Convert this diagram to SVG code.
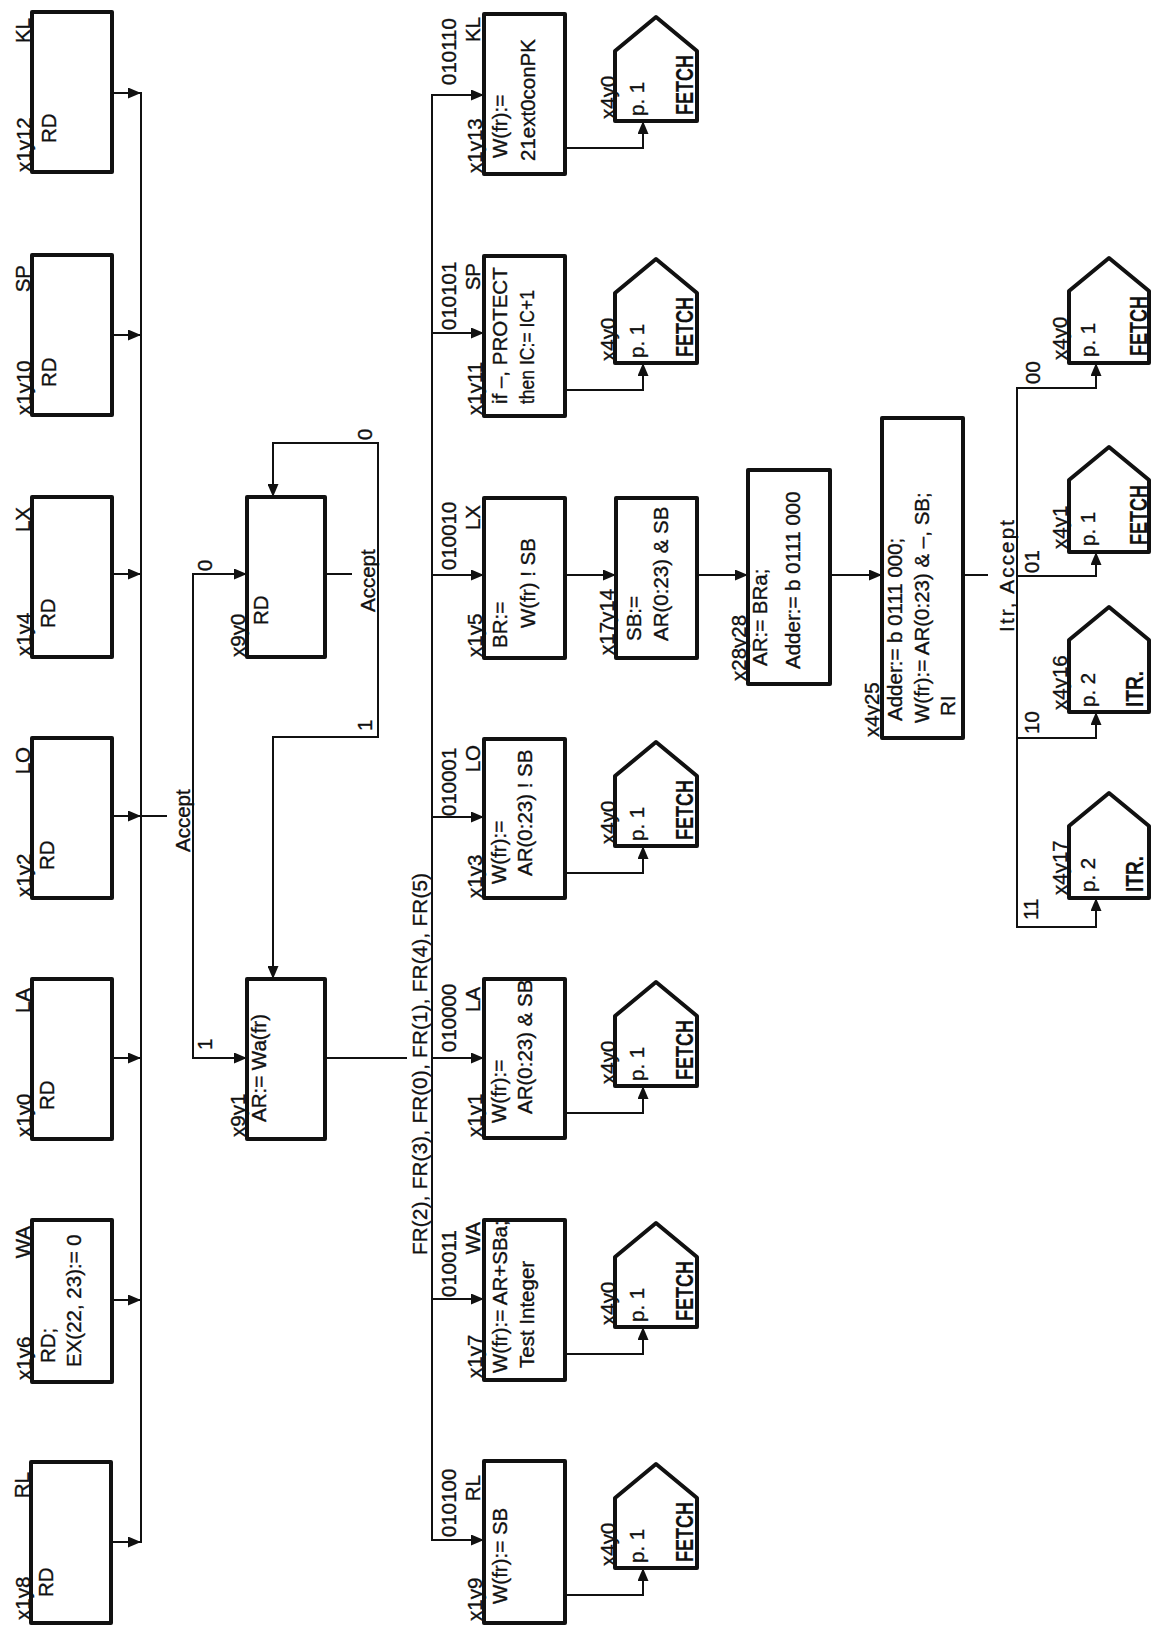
<svg xmlns="http://www.w3.org/2000/svg" width="1159" height="1629" viewBox="0 0 1159 1629">
<style>
  .box { fill: #fff; stroke: #111; stroke-width: 4; stroke-linejoin: round; }
  .pent { fill: #fff; stroke: #111; stroke-width: 4; stroke-linejoin: round; }
  .ln { fill: none; stroke: #111; stroke-width: 2; }
  .arr { fill: none; stroke: #111; stroke-width: 2; marker-end: url(#ah); }
  text { font-family: "Liberation Sans", Arial, sans-serif; font-size: 20.5px; fill: #111; stroke: #111; stroke-width: 0.35; }
  .e { text-anchor: end; }
  .b { font-weight: bold; font-size: 24px; stroke-width: 0.2; }
</style>
<defs>
  <marker id="ah" viewBox="0 0 13 11" refX="13" refY="5.5" markerWidth="13" markerHeight="11" markerUnits="userSpaceOnUse" orient="auto">
    <path d="M0,0 L13,5.5 L0,11 z" fill="#111"/>
  </marker>
</defs>
<rect width="1159" height="1629" fill="#fff"/>

<!-- connectors -->
<g id="connectors">
  <!-- left column into the collecting bus -->
  <line class="arr" x1="112" y1="93" x2="141" y2="93"/>
  <line class="arr" x1="112" y1="335" x2="141" y2="335"/>
  <line class="arr" x1="112" y1="574" x2="141" y2="574"/>
  <line class="arr" x1="112" y1="816" x2="141" y2="816"/>
  <line class="arr" x1="112" y1="1058" x2="141" y2="1058"/>
  <line class="arr" x1="112" y1="1300" x2="141" y2="1300"/>
  <line class="arr" x1="112" y1="1542" x2="141" y2="1542"/>
  <line class="ln" x1="141" y1="92" x2="141" y2="1543"/>
  <line class="ln" x1="141" y1="816" x2="167" y2="816"/>
  <!-- Accept decision on the left -->
  <line class="arr" x1="193" y1="574" x2="247" y2="574"/>
  <line class="arr" x1="193" y1="1058" x2="247" y2="1058"/>
  <line class="ln" x1="193" y1="573" x2="193" y2="1059"/>
  <!-- x9y0 loop -->
  <line class="ln" x1="325" y1="574" x2="352" y2="574"/>
  <line class="ln" x1="378" y1="442" x2="378" y2="738"/>
  <polyline class="arr" points="378,443 273,443 273,497"/>
  <polyline class="arr" points="378,737 273,737 273,979"/>
  <!-- x9y1 out to the function bus -->
  <line class="ln" x1="325" y1="1058" x2="407" y2="1058"/>
  <line class="ln" x1="432" y1="94" x2="432" y2="1541"/>
  <line class="arr" x1="432" y1="95" x2="484" y2="95"/>
  <line class="arr" x1="432" y1="333" x2="484" y2="333"/>
  <line class="arr" x1="432" y1="575" x2="484" y2="575"/>
  <line class="arr" x1="432" y1="817" x2="484" y2="817"/>
  <line class="arr" x1="432" y1="1058" x2="484" y2="1058"/>
  <line class="arr" x1="432" y1="1299" x2="484" y2="1299"/>
  <line class="arr" x1="432" y1="1540" x2="484" y2="1540"/>
  <!-- boxes to FETCH connectors -->
  <polyline class="arr" points="565,148 643,148 643,121"/>
  <polyline class="arr" points="565,390 643,390 643,363"/>
  <polyline class="arr" points="565,873 643,873 643,846"/>
  <polyline class="arr" points="565,1113 643,1113 643,1086"/>
  <polyline class="arr" points="565,1354 643,1354 643,1327"/>
  <polyline class="arr" points="565,1595 643,1595 643,1568"/>
  <!-- LX chain -->
  <line class="arr" x1="565" y1="575" x2="616" y2="575"/>
  <line class="arr" x1="697" y1="575" x2="748" y2="575"/>
  <line class="arr" x1="830" y1="575" x2="882" y2="575"/>
  <!-- Itr, Accept decision -->
  <line class="ln" x1="963" y1="575" x2="988" y2="575"/>
  <line class="ln" x1="1017" y1="387" x2="1017" y2="928"/>
  <polyline class="arr" points="1017,388 1096,388 1096,363"/>
  <polyline class="arr" points="1017,576 1096,576 1096,552"/>
  <polyline class="arr" points="1017,738 1096,738 1096,712"/>
  <polyline class="arr" points="1017,927 1096,927 1096,898"/>
</g>

<!-- connector labels -->
<g id="labels">
  <text transform="translate(190 852) rotate(-90)">Accept</text>
  <text transform="translate(212 571) rotate(-90)">0</text>
  <text transform="translate(212 1050) rotate(-90)">1</text>
  <text transform="translate(375 612) rotate(-90)">Accept</text>
  <text transform="translate(372 440) rotate(-90)">0</text>
  <text transform="translate(372 731) rotate(-90)">1</text>
  <text transform="translate(427 1255) rotate(-90)" textLength="382" lengthAdjust="spacing">FR(2), FR(3), FR(0), FR(1), FR(4), FR(5)</text>
  <text transform="translate(456 85) rotate(-90)">010110</text>
  <text transform="translate(456 330) rotate(-90)">010101</text>
  <text transform="translate(456 570) rotate(-90)">010010</text>
  <text transform="translate(456 816) rotate(-90)">010001</text>
  <text transform="translate(456 1052) rotate(-90)">010000</text>
  <text transform="translate(456 1297) rotate(-90)">010011</text>
  <text transform="translate(456 1537) rotate(-90)">010100</text>
  <text transform="translate(1014 632) rotate(-90)" textLength="112" lengthAdjust="spacing">Itr, Accept</text>
  <text transform="translate(1040 384) rotate(-90)">00</text>
  <text transform="translate(1039 573) rotate(-90)">01</text>
  <text transform="translate(1039 734) rotate(-90)">10</text>
  <text transform="translate(1038 920) rotate(-90)">11</text>
</g>

<!-- read states, left column -->
<g id="x1y12">
  <rect class="box" x="32" y="12" width="80" height="160"/>
  <text class="e" transform="translate(30 18) rotate(-90)">KL</text>
  <text transform="translate(31 172) rotate(-90)">x1y12</text>
  <text transform="translate(56 143) rotate(-90)">RD</text>
</g>
<g id="x1y10">
  <rect class="box" x="32" y="255" width="80" height="160"/>
  <text class="e" transform="translate(30 265) rotate(-90)">SP</text>
  <text transform="translate(31 415) rotate(-90)">x1y10</text>
  <text transform="translate(56 387) rotate(-90)">RD</text>
</g>
<g id="x1y4">
  <rect class="box" x="32" y="497" width="80" height="160"/>
  <text class="e" transform="translate(30 507) rotate(-90)">LX</text>
  <text transform="translate(31 656) rotate(-90)">x1y4</text>
  <text transform="translate(55 628) rotate(-90)">RD</text>
</g>
<g id="x1y2">
  <rect class="box" x="32" y="738" width="80" height="160"/>
  <text class="e" transform="translate(30 747) rotate(-90)">LO</text>
  <text transform="translate(31 897) rotate(-90)">x1y2</text>
  <text transform="translate(54 870) rotate(-90)">RD</text>
</g>
<g id="x1y0">
  <rect class="box" x="32" y="979" width="80" height="160"/>
  <text class="e" transform="translate(30 988) rotate(-90)">LA</text>
  <text transform="translate(31 1137) rotate(-90)">x1y0</text>
  <text transform="translate(54 1110) rotate(-90)">RD</text>
</g>
<g id="x1y6">
  <rect class="box" x="32" y="1220" width="80" height="162"/>
  <text class="e" transform="translate(30 1226) rotate(-90)">WA</text>
  <text transform="translate(31 1380) rotate(-90)">x1y6</text>
  <text transform="translate(55 1363) rotate(-90)">RD;</text>
  <text transform="translate(81 1367) rotate(-90)">EX(22, 23):= 0</text>
</g>
<g id="x1y8">
  <rect class="box" x="31" y="1462" width="80" height="161"/>
  <text class="e" transform="translate(29 1472) rotate(-90)">RL</text>
  <text transform="translate(30 1620) rotate(-90)">x1y8</text>
  <text transform="translate(53 1597) rotate(-90)">RD</text>
</g>

<!-- address fetch states -->
<g id="x9y0">
  <rect class="box" x="247" y="497" width="78" height="160"/>
  <text transform="translate(245 657) rotate(-90)">x9y0</text>
  <text transform="translate(268 625) rotate(-90)">RD</text>
</g>
<g id="x9y1">
  <rect class="box" x="247" y="979" width="78" height="160"/>
  <text transform="translate(245 1137) rotate(-90)">x9y1</text>
  <text transform="translate(266 1122) rotate(-90)">AR:= Wa(fr)</text>
</g>

<!-- function states -->
<g id="x1y13">
  <rect class="box" x="484" y="14" width="81" height="160"/>
  <text class="e" transform="translate(480 17) rotate(-90)">KL</text>
  <text transform="translate(482 173) rotate(-90)">x1y13</text>
  <text transform="translate(507 158) rotate(-90)">W(fr):=</text>
  <text transform="translate(535 161) rotate(-90)">21ext0conPK</text>
</g>
<g id="x1y11">
  <rect class="box" x="484" y="256" width="81" height="160"/>
  <text class="e" transform="translate(480 263) rotate(-90)">SP</text>
  <text transform="translate(482 415) rotate(-90)">x1y11</text>
  <text transform="translate(507 404) rotate(-90)">if –,  PROTECT</text>
  <text transform="translate(534 404) rotate(-90)" textLength="114" lengthAdjust="spacingAndGlyphs">then IC:= IC+1</text>
</g>
<g id="x1y5">
  <rect class="box" x="484" y="498" width="81" height="160"/>
  <text class="e" transform="translate(480 505) rotate(-90)">LX</text>
  <text transform="translate(482 657) rotate(-90)">x1y5</text>
  <text transform="translate(507 648) rotate(-90)">BR:=</text>
  <text transform="translate(535 628) rotate(-90)">W(fr) ! SB</text>
</g>
<g id="x1y3">
  <rect class="box" x="484" y="739" width="81" height="159"/>
  <text class="e" transform="translate(480 745) rotate(-90)">LO</text>
  <text transform="translate(482 898) rotate(-90)">x1y3</text>
  <text transform="translate(506 884) rotate(-90)">W(fr):=</text>
  <text transform="translate(532 876) rotate(-90)">AR(0:23) ! SB</text>
</g>
<g id="x1y1">
  <rect class="box" x="484" y="979" width="81" height="159"/>
  <text class="e" transform="translate(480 987) rotate(-90)">LA</text>
  <text transform="translate(482 1137) rotate(-90)">x1y1</text>
  <text transform="translate(506 1123) rotate(-90)">W(fr):=</text>
  <text transform="translate(532 1114) rotate(-90)">AR(0:23) &amp; SB</text>
</g>
<g id="x1y7">
  <rect class="box" x="484" y="1220" width="81" height="160"/>
  <text class="e" transform="translate(480 1222) rotate(-90)">WA</text>
  <text transform="translate(482 1378) rotate(-90)">x1y7</text>
  <text transform="translate(507 1373) rotate(-90)">W(fr):= AR+SBa;</text>
  <text transform="translate(534 1368) rotate(-90)">Test Integer</text>
</g>
<g id="x1y9">
  <rect class="box" x="484" y="1461" width="81" height="162"/>
  <text class="e" transform="translate(480 1475) rotate(-90)">RL</text>
  <text transform="translate(482 1621) rotate(-90)">x1y9</text>
  <text transform="translate(507 1604) rotate(-90)">W(fr):= SB</text>
</g>

<!-- LX chain states -->
<g id="x17y14">
  <rect class="box" x="616" y="498" width="81" height="160"/>
  <text transform="translate(614 655) rotate(-90)">x17y14</text>
  <text transform="translate(641 641) rotate(-90)">SB:=</text>
  <text transform="translate(668 641) rotate(-90)">AR(0:23) &amp; SB</text>
</g>
<g id="x28y28">
  <rect class="box" x="748" y="470" width="82" height="214"/>
  <text transform="translate(746 681) rotate(-90)">x28y28</text>
  <text transform="translate(767 666) rotate(-90)">AR:= BRa;</text>
  <text transform="translate(800 669) rotate(-90)">Adder:= b 0111 000</text>
</g>
<g id="x4y25">
  <rect class="box" x="882" y="418" width="81" height="320"/>
  <text transform="translate(879 737) rotate(-90)">x4y25</text>
  <text transform="translate(902 721) rotate(-90)">Adder:= b 0111 000;</text>
  <text transform="translate(929 723) rotate(-90)">W(fr):= AR(0:23) &amp; –, SB;</text>
  <text transform="translate(955 716) rotate(-90)">RI</text>
</g>

<!-- off-page connectors -->
<g id="fetch-kl">
  <polygon class="pent" points="615,121 615,51 656,17 697,51 697,121"/>
  <text transform="translate(615 119) rotate(-90)">x4y0</text>
  <text transform="translate(644 116) rotate(-90)">p. 1</text>
  <text class="b" transform="translate(693 115) rotate(-90)" textLength="60" lengthAdjust="spacingAndGlyphs">FETCH</text>
</g>
<g id="fetch-sp">
  <polygon class="pent" points="615,363 615,293 656,259 697,293 697,363"/>
  <text transform="translate(615 361) rotate(-90)">x4y0</text>
  <text transform="translate(644 358) rotate(-90)">p. 1</text>
  <text class="b" transform="translate(693 357) rotate(-90)" textLength="60" lengthAdjust="spacingAndGlyphs">FETCH</text>
</g>
<g id="fetch-lo">
  <polygon class="pent" points="615,846 615,776 656,742 697,776 697,846"/>
  <text transform="translate(615 844) rotate(-90)">x4y0</text>
  <text transform="translate(644 841) rotate(-90)">p. 1</text>
  <text class="b" transform="translate(693 840) rotate(-90)" textLength="60" lengthAdjust="spacingAndGlyphs">FETCH</text>
</g>
<g id="fetch-la">
  <polygon class="pent" points="615,1086 615,1016 656,982 697,1016 697,1086"/>
  <text transform="translate(615 1084) rotate(-90)">x4y0</text>
  <text transform="translate(644 1081) rotate(-90)">p. 1</text>
  <text class="b" transform="translate(693 1080) rotate(-90)" textLength="60" lengthAdjust="spacingAndGlyphs">FETCH</text>
</g>
<g id="fetch-wa">
  <polygon class="pent" points="615,1327 615,1257 656,1223 697,1257 697,1327"/>
  <text transform="translate(615 1325) rotate(-90)">x4y0</text>
  <text transform="translate(644 1322) rotate(-90)">p. 1</text>
  <text class="b" transform="translate(693 1321) rotate(-90)" textLength="60" lengthAdjust="spacingAndGlyphs">FETCH</text>
</g>
<g id="fetch-rl">
  <polygon class="pent" points="615,1568 615,1498 656,1464 697,1498 697,1568"/>
  <text transform="translate(615 1566) rotate(-90)">x4y0</text>
  <text transform="translate(644 1563) rotate(-90)">p. 1</text>
  <text class="b" transform="translate(693 1562) rotate(-90)" textLength="60" lengthAdjust="spacingAndGlyphs">FETCH</text>
</g>
<g id="x4y0">
  <polygon class="pent" points="1069,363 1069,291 1109,258 1149,291 1149,363"/>
  <text transform="translate(1067 360) rotate(-90)">x4y0</text>
  <text transform="translate(1095 357) rotate(-90)">p. 1</text>
  <text class="b" transform="translate(1147 356) rotate(-90)" textLength="60" lengthAdjust="spacingAndGlyphs">FETCH</text>
</g>
<g id="x4y1">
  <polygon class="pent" points="1069,552 1069,480 1109,447 1149,480 1149,552"/>
  <text transform="translate(1067 549) rotate(-90)">x4y1</text>
  <text transform="translate(1095 546) rotate(-90)">p. 1</text>
  <text class="b" transform="translate(1147 545) rotate(-90)" textLength="60" lengthAdjust="spacingAndGlyphs">FETCH</text>
</g>
<g id="x4y16">
  <polygon class="pent" points="1069,712 1069,640 1109,607 1149,640 1149,712"/>
  <text transform="translate(1067 710) rotate(-90)">x4y16</text>
  <text transform="translate(1095 707) rotate(-90)">p. 2</text>
  <text class="b" transform="translate(1143 707) rotate(-90)" textLength="36" lengthAdjust="spacingAndGlyphs">ITR.</text>
</g>
<g id="x4y17">
  <polygon class="pent" points="1069,898 1069,826 1109,793 1149,826 1149,898"/>
  <text transform="translate(1067 895) rotate(-90)">x4y17</text>
  <text transform="translate(1095 892) rotate(-90)">p. 2</text>
  <text class="b" transform="translate(1143 892) rotate(-90)" textLength="36" lengthAdjust="spacingAndGlyphs">ITR.</text>
</g>
</svg>
